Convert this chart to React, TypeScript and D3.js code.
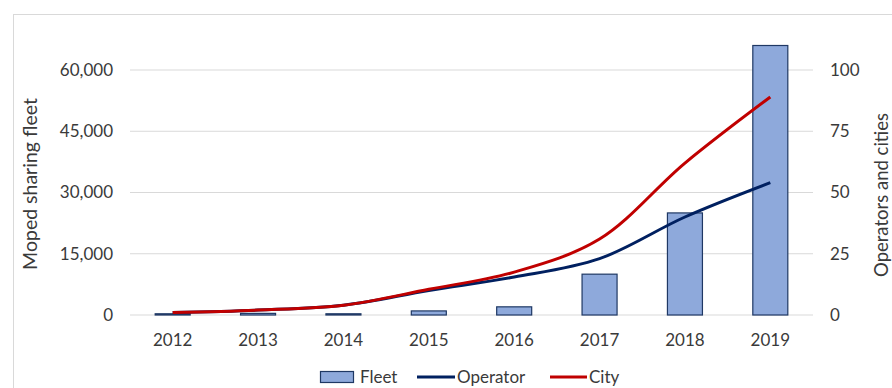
import React from "react";
import * as d3 from "d3";

const years = ["2012", "2013", "2014", "2015", "2016", "2017", "2018", "2019"];
const fleet = [300, 400, 300, 1000, 2000, 10000, 25000, 66000];
const operators = [1, 2, 4, 10, 15.5, 23, 40, 54];
const cities = [1, 2, 4, 10.5, 17.5, 31, 62, 89];
const leftTicks = [0, 15000, 30000, 45000, 60000];
const rightTicks = [0, 25, 50, 75, 100];

const W = 892, H = 388;
const M = { left: 130, right: 813, top: 70, bottom: 315 };
const FONT = "Lato, 'Open Sans', sans-serif";
const TXT = "#3a3a3a";

export default function App() {
  const x = d3.scaleBand<string>().domain(years).range([M.left, M.right]).paddingInner(0.59).paddingOuter(0.295);
  const yL = d3.scaleLinear().domain([0, 60000]).range([M.bottom, M.top]);
  const yR = d3.scaleLinear().domain([0, 100]).range([M.bottom, M.top]);
  const cx = (y: string) => (x(y) as number) + x.bandwidth() / 2;
  const line = d3.line<number>().x((_, i) => cx(years[i])).y((d) => yR(d)).curve(d3.curveCatmullRom.alpha(0.5));

  return (
    <svg width={W} height={H} style={{ position: "absolute", left: 0, top: 0, background: "#fff" }} fontFamily={FONT}>
      <rect x={13.5} y={14.5} width={W} height={H} fill="none" stroke="#d9d9d9" strokeWidth={1} />
      {leftTicks.map((t) => (
        <line key={t} x1={M.left} x2={M.right} y1={yL(t)} y2={yL(t)} stroke="#d9d9d9" strokeWidth={1} />
      ))}
      {leftTicks.map((t) => (
        <text key={"l" + t} x={113} y={yL(t)} dy="0.35em" textAnchor="end" fontSize={17} fill={TXT}>
          {d3.format(",")(t)}
        </text>
      ))}
      {rightTicks.map((t) => (
        <text key={"r" + t} x={830} y={yR(t)} dy="0.35em" textAnchor="start" fontSize={17} fill={TXT}>
          {t}
        </text>
      ))}
      {years.map((y) => (
        <text key={"x" + y} x={cx(y)} y={340} dy="0.35em" textAnchor="middle" fontSize={17} fill={TXT}>
          {y}
        </text>
      ))}
      {fleet.map((v, i) => (
        <rect key={"b" + i} x={x(years[i])} y={yL(v)} width={x.bandwidth()} height={yL(0) - yL(v)} fill="#8EA9DB" stroke="#1F3864" strokeWidth={1.2} />
      ))}
      <path d={line(operators) || ""} fill="none" stroke="#002060" strokeWidth={3} />
      <path d={line(cities) || ""} fill="none" stroke="#C00000" strokeWidth={3} />
      <text transform={`translate(30,184) rotate(-90)`} textAnchor="middle" fontSize={19.5} fill={TXT} dy="0.35em">
        Moped sharing fleet
      </text>
      <text transform={`translate(882,195) rotate(-90)`} textAnchor="middle" fontSize={18.5} fill={TXT} dy="0.35em">
        Operators and cities
      </text>
      <g fontSize={17} fill={TXT}>
        <rect x={320.5} y={371.5} width={33} height={11} fill="#8EA9DB" stroke="#1F3864" strokeWidth={1.2} />
        <text x={360} y={377} dy="0.35em">Fleet</text>
        <line x1={417} x2={455} y1={377} y2={377} stroke="#002060" strokeWidth={3} />
        <text x={457} y={377} dy="0.35em">Operator</text>
        <line x1={550} x2={587} y1={377} y2={377} stroke="#C00000" strokeWidth={3} />
        <text x={589} y={377} dy="0.35em">City</text>
      </g>
    </svg>
  );
}
